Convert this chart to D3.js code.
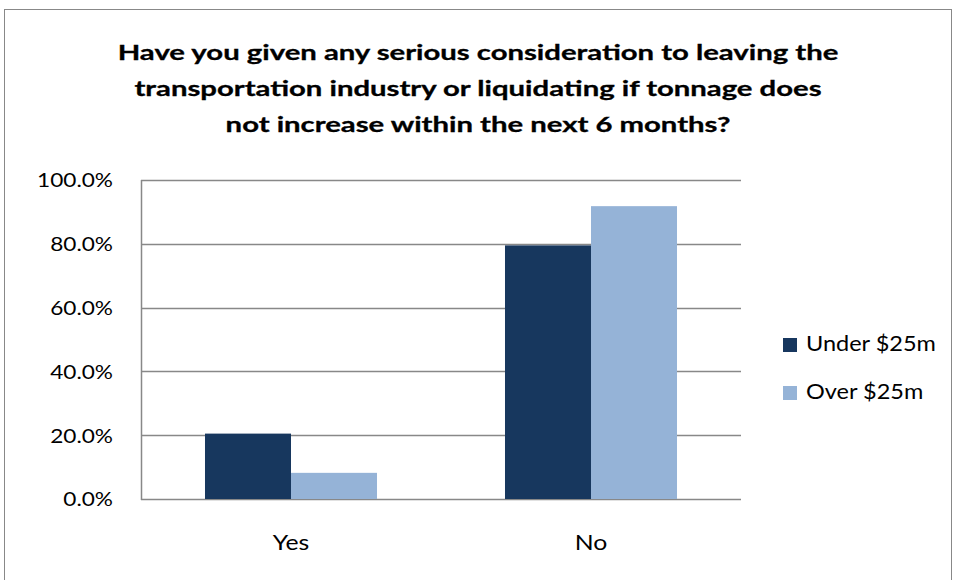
<!DOCTYPE html>
<html lang="en">
<head>
<meta charset="utf-8">
<title>Transportation survey</title>
<script src="https://cdnjs.cloudflare.com/ajax/libs/d3/7.8.5/d3.min.js"></script>
<style>
  body { margin: 0; background: #fff; }
  text { font-family: Lato, "Open Sans", sans-serif; fill: #000; }
</style>
</head>
<body>
<div id="chart"></div>
<script>
// data
const answers = ['Yes', 'No'];
const seriesNames = ['Under $25m', 'Over $25m'];
const under25 = [20.5, 79.5];
const over25 = [8.2, 91.8];
const yTicks = [0, 20, 40, 60, 80, 100];
const titleLines = [
  'Have you given any serious consideration to leaving the',
  'transportation industry or liquidating if tonnage does',
  'not increase within the next 6 months?'
];
const colors = ['#17375e', '#95b3d7'];

const w = 955, h = 580;
const plot = {left: 141, right: 741, top: 180, bottom: 499};

const svg = d3.select('#chart').append('svg')
  .attr('width', w).attr('height', h);

// the reference text is wider than Lato, so stretch it sideways
function placeText(sel, xf, yf, sx) {
  sel.attr('x', 0).attr('y', 0)
    .attr('transform', (d, i) => 'translate(' + xf(d, i) + ',' + yf(d, i) + ') scale(' + sx + ',1)');
}
function widthOf(size, weight, str) {
  const t = svg.append('text').style('font-size', size + 'px').style('font-weight', weight).text(str);
  const len = t.node().getComputedTextLength();
  t.remove();
  return len;
}

// outer chart border
svg.append('rect')
  .attr('x', 4.5).attr('y', 9.5)
  .attr('width', 947).attr('height', 590)
  .attr('fill', 'none').attr('stroke', '#888').attr('stroke-width', 1);

// title
const titleSx = 721 / widthOf(21, 'bold', titleLines[0]);
const title = svg.append('g').selectAll('text')
  .data(titleLines).enter().append('text')
  .attr('text-anchor', 'middle')
  .style('font-weight', 'bold').style('font-size', '21px')
  .style('stroke', '#000').style('stroke-width', 0.3)
  .text(d => d);
placeText(title, () => 478, (d, i) => 59.5 + i * 36.3, titleSx);

const x0 = d3.scaleBand().domain(answers).range([plot.left, plot.right]).paddingInner(0).paddingOuter(0);
const x1 = d3.scaleBand().domain(seriesNames).range([0, x0.bandwidth()]).paddingInner(0).paddingOuter(0.744);
const y = d3.scaleLinear().domain([0, 100]).range([plot.bottom, plot.top]);

// gridlines
svg.append('g').selectAll('line')
  .data(yTicks).enter().append('line')
  .attr('x1', plot.left).attr('x2', plot.right)
  .attr('y1', d => Math.round(y(d)) + 0.5).attr('y2', d => Math.round(y(d)) + 0.5)
  .attr('stroke', '#888').attr('stroke-width', 1.5);

// y axis line
svg.append('line')
  .attr('x1', plot.left + 0.5).attr('x2', plot.left + 0.5)
  .attr('y1', plot.top).attr('y2', plot.bottom + 1)
  .attr('stroke', '#888').attr('stroke-width', 1.5);

// y tick labels
const tickSx = 76 / widthOf(19.5, 'normal', '100.0%');
const ticks = svg.append('g').selectAll('text')
  .data(yTicks).enter().append('text')
  .attr('text-anchor', 'end').style('font-size', '19.5px')
  .text(d => d.toFixed(1) + '%');
placeText(ticks, () => 113, d => y(d) + 7.3, tickSx);

// bars
const rows = answers.map((a, i) => ({answer: a, values: [under25[i], over25[i]]}));
const groups = svg.append('g').selectAll('g')
  .data(rows).enter().append('g')
  .attr('transform', d => 'translate(' + x0(d.answer) + ',0)');

groups.selectAll('rect')
  .data(d => d.values.map((v, j) => ({name: seriesNames[j], value: v, j: j})))
  .enter().append('rect')
  .attr('x', d => x1(d.name))
  .attr('width', x1.bandwidth())
  .attr('y', d => y(d.value))
  .attr('height', d => plot.bottom - y(d.value))
  .attr('fill', d => colors[d.j]);

// category labels
const catSx = 36.6 / widthOf(21, 'normal', 'Yes');
const cats = svg.append('g').selectAll('text')
  .data(answers).enter().append('text')
  .attr('text-anchor', 'middle').style('font-size', '21px')
  .text(d => d);
placeText(cats, d => x0(d) + x0.bandwidth() / 2, () => 549.5, catSx);

// legend
const legSx = 130 / widthOf(21, 'normal', seriesNames[0]);
const legend = svg.append('g').selectAll('g')
  .data(seriesNames).enter().append('g')
  .attr('transform', (d, i) => 'translate(783,' + (338 + i * 48) + ')');
legend.append('rect')
  .attr('width', 14).attr('height', 14)
  .attr('fill', (d, i) => colors[i]);
const legText = legend.append('text')
  .style('font-size', '21px')
  .text(d => d);
placeText(legText, () => 23, () => 12.7, legSx);
</script>
</body>
</html>
